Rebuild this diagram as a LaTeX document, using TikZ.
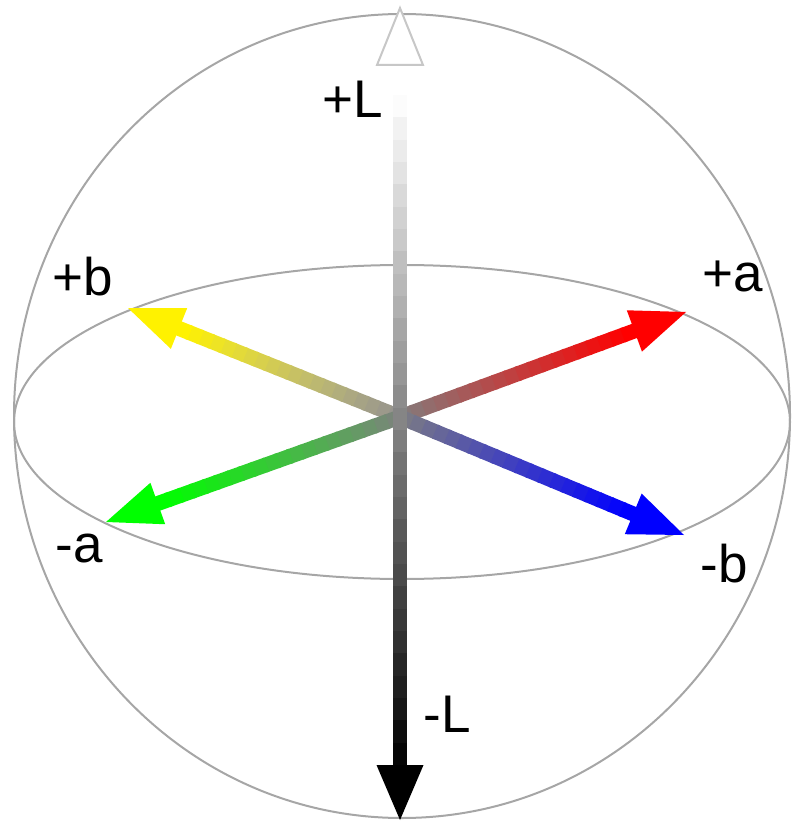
\documentclass[tikz,border=0pt]{standalone}
\usepackage{fontspec}
\setmainfont{Liberation Sans}
\usetikzlibrary{calc}

\begin{document}
\begin{tikzpicture}[x=0.5pt, y=-0.5pt,
  font=\fontsize{26.5}{30}\selectfont,
  shell/.style={draw=black!35, line width=1pt},
  lbl/.style={inner sep=0pt, anchor=base west},
  seg/.style={line width=7.5pt},
  lseg/.style={line width=7pt},
  opentip/.style={fill=white, draw=black!22, line width=1pt},
]
\useasboundingbox (0,0) rectangle (792,823);

\coordinate (O)     at (400,417);
\coordinate (Ltop)  at (400,95);
\coordinate (Lbase) at (400,765);
\coordinate (Ltip)  at (400,820);
\coordinate (Lup)   at (400,8);
\coordinate (Lupbase) at (400,65);
\coordinate (pa) at (686,312);
\coordinate (pb) at (128,308);
\coordinate (ma) at (106,522);
\coordinate (mb) at (684,535);

% sphere and equator
\draw[shell] (402,416) ellipse [x radius=388, y radius=402];
\draw[shell] (402,422) ellipse [x radius=388, y radius=157];

% a and b axes
\foreach \tip/\col in {pa/red, pb/yellow, ma/green, mb/blue}{
  \coordinate (\tip-base) at ($(\tip)!27.5pt!(O)$);
  \foreach \i in {0,...,19}{
    \pgfmathtruncatemacro\p{5*\i+5}
    \draw[seg, \col!\p!gray] ($(O)!\i/20!(\tip-base)$) -- ($(O)!\i/20+0.06!(\tip-base)$);
  }
  \fill[\col] (\tip) -- ($(\tip-base)!11pt!90:(\tip)$)
    -- ($(\tip-base)!11pt!-90:(\tip)$) -- cycle;
}

% L axis
\foreach \i in {0,...,29}{
  \pgfmathtruncatemacro\p{100*(\i+0.5)/30}
  \draw[lseg, black!\p!white] ($(Ltop)!\i/30!(Lbase)$) -- ($(Ltop)!\i/30+0.04!(Lbase)$);
}
\fill[black] (Ltip) -- ($(Lbase)+(-23.5,0)$) -- ($(Lbase)+(23.5,0)$) -- cycle;
\draw[opentip] (Lup) -- ($(Lupbase)+(-23,0)$) -- ($(Lupbase)+(23,0)$) -- cycle;

% labels
\node[lbl] (Lplus)  at (322,118) {+L};
\node[lbl] (Lminus) at (423,732) {-L};
\node[lbl] (bplus)  at (52,295)  {+b};
\node[lbl] (aplus)  at (702,292) {+a};
\node[lbl] (aminus) at (55,562)  {-a};
\node[lbl] (bminus) at (700,582) {-b};
\end{tikzpicture}
\end{document}
